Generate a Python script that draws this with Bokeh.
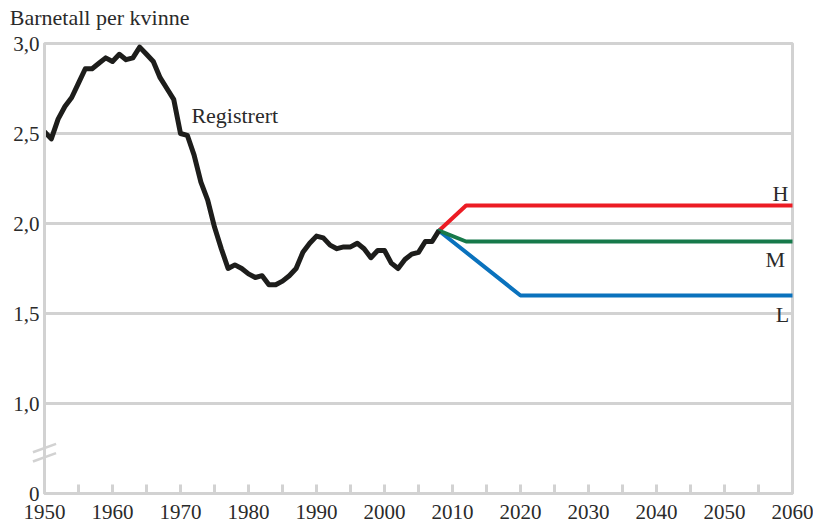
from bokeh.plotting import figure
from bokeh.models import Range1d, FixedTicker
from bokeh.core.properties import value
from bokeh.embed import file_html
from bokeh.resources import INLINE

# Registered total fertility rate (Norway)
years = list(range(1950, 2009))
registered = [2.51, 2.47, 2.58, 2.65, 2.70, 2.78, 2.86, 2.86, 2.89, 2.92,
              2.90, 2.94, 2.91, 2.92, 2.98, 2.94, 2.90, 2.81, 2.75, 2.69,
              2.50, 2.49, 2.38, 2.23, 2.13, 1.98, 1.86, 1.75, 1.77, 1.75,
              1.72, 1.70, 1.71, 1.66, 1.66, 1.68, 1.71, 1.75, 1.84, 1.89,
              1.93, 1.92, 1.88, 1.86, 1.87, 1.87, 1.89, 1.86, 1.81, 1.85,
              1.85, 1.78, 1.75, 1.80, 1.83, 1.84, 1.90, 1.90, 1.96]

# Projection alternatives
high_years = [2008, 2012, 2060]
high_vals = [1.96, 2.10, 2.10]
mid_years = [2008, 2012, 2060]
mid_vals = [1.96, 1.90, 1.90]
low_years = [2008, 2020, 2060]
low_vals = [1.96, 1.60, 1.60]

x_ticks = list(range(1950, 2061, 10))
x_minor = list(range(1955, 2060, 10))
y_ticks = [0.5, 1.0, 1.5, 2.0, 2.5, 3.0]
y_labels = ["0", "1,0", "1,5", "2,0", "2,5", "3,0"]

FONT = "Liberation Serif"
GRAY = "#d2d2d2"
TEXT = "#2a2a2a"

p = figure(width=813, height=526, x_range=Range1d(1950, 2060), y_range=Range1d(0.5, 3.0),
           output_backend="svg", toolbar_location=None,
           min_border_left=44, min_border_right=21, min_border_top=43, min_border_bottom=33)
p.background_fill_color = "white"
p.border_fill_color = "white"
p.outline_line_color = GRAY
p.outline_line_width = 3

p.xgrid.grid_line_color = None
p.ygrid.ticker = FixedTicker(ticks=y_ticks[1:])
p.ygrid.grid_line_color = GRAY
p.ygrid.grid_line_width = 3

xa = p.xaxis[0]
xa.ticker = FixedTicker(ticks=x_ticks, minor_ticks=x_minor)
xa.axis_line_color = GRAY
xa.axis_line_width = 3
xa.major_tick_line_color = GRAY
xa.major_tick_line_width = 3
xa.major_tick_in = 9
xa.major_tick_out = 0
xa.minor_tick_line_color = GRAY
xa.minor_tick_line_width = 3
xa.minor_tick_in = 9
xa.minor_tick_out = 0
xa.major_label_text_font = FONT
xa.major_label_text_font_size = "21px"
xa.major_label_text_color = TEXT
xa.major_label_standoff = 11

ya = p.yaxis[0]
ya.ticker = FixedTicker(ticks=y_ticks)
ya.major_label_overrides = {t: l for t, l in zip(y_ticks, y_labels)}
ya.axis_line_color = GRAY
ya.axis_line_width = 3
ya.major_tick_line_color = None
ya.minor_tick_line_color = None
ya.major_tick_out = 0
ya.major_tick_in = 0
ya.major_label_text_font = FONT
ya.major_label_text_font_size = "21px"
ya.major_label_text_color = TEXT
ya.major_label_standoff = 5

# axis break mark (decoration)
p.segment(x0=[1948.3, 1948.3], y0=[0.729, 0.678], x1=[1951.7, 1951.7], y1=[0.776, 0.724],
          line_color=GRAY, line_width=2.5, level="overlay")

p.line(high_years, high_vals, line_color="#ec1c24", line_width=4, line_cap="round")
p.line(low_years, low_vals, line_color="#0a72bd", line_width=4, line_cap="round")
p.line(mid_years, mid_vals, line_color="#16794a", line_width=4, line_cap="round")
p.line(years, registered, line_color="#1d1d1b", line_width=5, line_join="round")

def lab(x, y, t, align="left"):
    p.text(x=[x], y=[y], text=[t], text_font=value(FONT), text_font_size="22px",
           text_color=TEXT, text_align=align, text_baseline="alphabetic", level="overlay")

lab(1944.9, 3.146, "Barnetall per kvinne")
lab(1971.6, 2.601, "Registrert")
lab(2059.4, 2.165, "H", "right")
lab(2058.9, 1.800, "M", "right")
lab(2059.5, 1.494, "L", "right")

open("out.html", "w").write(file_html(p, INLINE))
